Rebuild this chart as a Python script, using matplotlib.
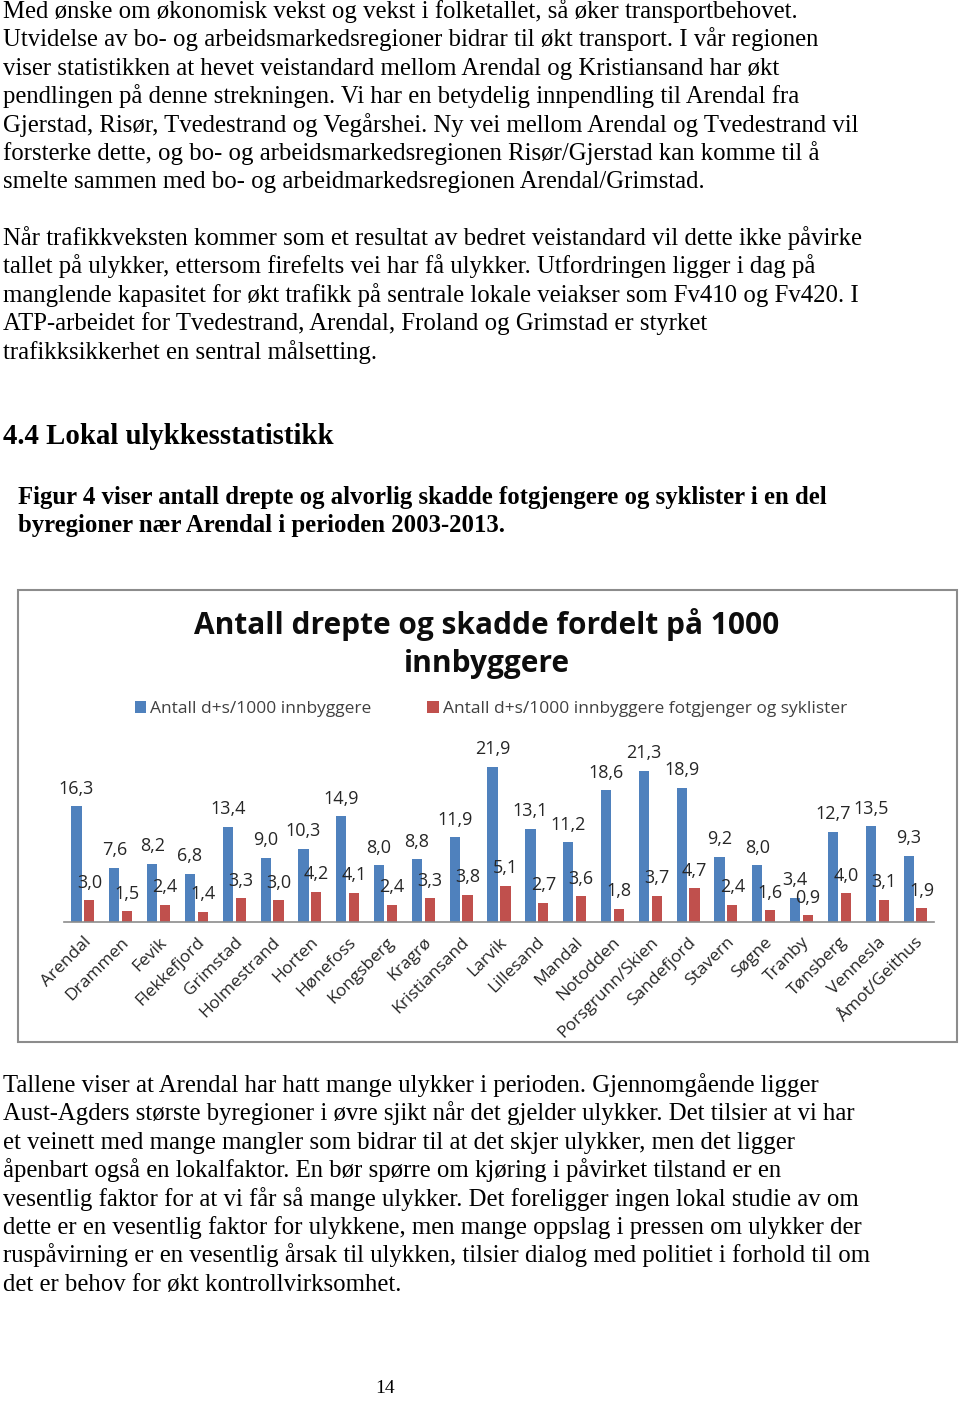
import numpy as np
import matplotlib.pyplot as plt
from matplotlib.patches import Rectangle

W, H = 960, 1402

# ---- chart data ----
byer = ['Arendal', 'Drammen', 'Fevik', 'Flekkefjord', 'Grimstad', 'Holmestrand',
        'Horten', 'Hønefoss', 'Kongsberg', 'Kragrø', 'Kristiansand', 'Larvik',
        'Lillesand', 'Mandal', 'Notodden', 'Porsgrunn/Skien', 'Sandefjord',
        'Stavern', 'Søgne', 'Tranby', 'Tønsberg', 'Vennesla', 'Åmot/Geithus']
alle = [16.3, 7.6, 8.2, 6.8, 13.4, 9.0, 10.3, 14.9, 8.0, 8.8, 11.9, 21.9,
        13.1, 11.2, 18.6, 21.3, 18.9, 9.2, 8.0, 3.4, 12.7, 13.5, 9.3]
fotsykkel = [3.0, 1.5, 2.4, 1.4, 3.3, 3.0, 4.2, 4.1, 2.4, 3.3, 3.8, 5.1,
             2.7, 3.6, 1.8, 3.7, 4.7, 2.4, 1.6, 0.9, 4.0, 3.1, 1.9]
serie_navn = ['Antall d+s/1000 innbyggere',
              'Antall d+s/1000 innbyggere fotgjenger og syklister']
tittel = ['Antall drepte og skadde fordelt på 1000', 'innbyggere']

# ---- page text ----
avsnitt1 = [
    'Med ønske om økonomisk vekst og vekst i folketallet, så øker transportbehovet.',
    'Utvidelse av bo- og arbeidsmarkedsregioner bidrar til økt transport. I vår regionen',
    'viser statistikken at hevet veistandard mellom Arendal og Kristiansand har økt',
    'pendlingen på denne strekningen. Vi har en betydelig innpendling til Arendal fra',
    'Gjerstad, Risør, Tvedestrand og Vegårshei. Ny vei mellom Arendal og Tvedestrand vil',
    'forsterke dette, og bo- og arbeidsmarkedsregionen Risør/Gjerstad kan komme til å',
    'smelte sammen med bo- og arbeidmarkedsregionen Arendal/Grimstad.',
]
avsnitt2 = [
    'Når trafikkveksten kommer som et resultat av bedret veistandard vil dette ikke påvirke',
    'tallet på ulykker, ettersom firefelts vei har få ulykker. Utfordringen ligger i dag på',
    'manglende kapasitet for økt trafikk på sentrale lokale veiakser som Fv410 og Fv420. I',
    'ATP-arbeidet for Tvedestrand, Arendal, Froland og Grimstad er styrket',
    'trafikksikkerhet en sentral målsetting.',
]
overskrift = '4.4 Lokal ulykkesstatistikk'
figurtekst = [
    'Figur 4 viser antall drepte og alvorlig skadde fotgjengere og syklister i en del',
    'byregioner nær Arendal i perioden 2003-2013.',
]
avsnitt3 = [
    'Tallene viser at Arendal har hatt mange ulykker i perioden. Gjennomgående ligger',
    'Aust-Agders største byregioner i øvre sjikt når det gjelder ulykker. Det tilsier at vi har',
    'et veinett med mange mangler som bidrar til at det skjer ulykker, men det ligger',
    'åpenbart også en lokalfaktor. En bør spørre om kjøring i påvirket tilstand er en',
    'vesentlig faktor for at vi får så mange ulykker. Det foreligger ingen lokal studie av om',
    'dette er en vesentlig faktor for ulykkene, men mange oppslag i pressen om ulykker der',
    'ruspåvirning er en vesentlig årsak til ulykken, tilsier dialog med politiet i forhold til om',
    'det er behov for økt kontrollvirksomhet.',
]
sidetall = '14'


def fx(x):
    return x / W


def fy(y):
    return 1 - y / H


fig = plt.figure(figsize=(W / 100, H / 100), dpi=100)
fig.patch.set_facecolor('white')

serif = 'Liberation Serif'
sans = 'Open Sans'
lh = 28.4
fs = 17.8


def linjer(rader, x0, y0, **kw):
    for i, t in enumerate(rader):
        fig.text(fx(x0), fy(y0 + i * lh), t, va='baseline', ha='left',
                 family=serif, **kw)


linjer(avsnitt1, 3, 18, fontsize=fs)
linjer(avsnitt2, 3, 245, fontsize=fs)
fig.text(fx(3), fy(444), overskrift, va='baseline', family=serif,
         fontsize=20.7, fontweight='bold')
linjer(figurtekst, 18, 504, fontsize=fs, fontweight='bold')
linjer(avsnitt3, 3, 1092, fontsize=fs)
fig.text(fx(385), fy(1393), sidetall, va='baseline', ha='center',
         family=serif, fontsize=14)

# chart frame
fig.patches.append(Rectangle((fx(18), fy(1042)), fx(957) - fx(18), fy(590) - fy(1042),
                             transform=fig.transFigure, fill=False,
                             edgecolor='#8c8c8c', lw=1.5))

fig.text(fx(487), fy(634), tittel[0], ha='center', va='baseline', family=sans,
         fontsize=21.5, fontweight='bold', color='#0d0d0d')
fig.text(fx(487), fy(672), tittel[1], ha='center', va='baseline', family=sans,
         fontsize=21.5, fontweight='bold', color='#0d0d0d')

# axes
ax_l, ax_r, ax_b, ax_t = 64, 934, 921.7, 744.7
ax = fig.add_axes([fx(ax_l), fy(ax_b), fx(ax_r) - fx(ax_l), fy(ax_t) - fy(ax_b)])
x = np.arange(len(byer))
bw = 0.27
b1 = ax.bar(x - 0.17, alle, bw, color='#4F81BD', label=serie_navn[0])
b2 = ax.bar(x + 0.17, fotsykkel, bw, color='#C0504D', label=serie_navn[1])
for bars, vals in ((b1, alle), (b2, fotsykkel)):
    for r, v in zip(bars, vals):
        ax.annotate(f'{v:.1f}'.replace('.', ','),
                    (r.get_x() + r.get_width() / 2, v),
                    xytext=(0, 9), textcoords='offset points',
                    ha='center', va='baseline', family=sans, fontsize=13,
                    color='#262626')
ax.set_xlim(-0.5, len(byer) - 0.5)
ax.set_ylim(0, 25)
ax.set_yticks([])
for s in ('top', 'right', 'left'):
    ax.spines[s].set_visible(False)
ax.spines['bottom'].set_color('#8c8c8c')
ax.spines['bottom'].set_linewidth(1.2)
ax.set_xticks(x)
ax.set_xticklabels(byer, rotation=45, ha='right', va='top',
                   rotation_mode='anchor', family=sans, fontsize=12.5,
                   color='#262626')
ax.tick_params(axis='x', length=0, pad=9)
ax.set_facecolor('none')

fig.legend(handles=[b1, b2], labels=serie_navn, loc='center',
           bbox_to_anchor=(fx(491), fy(709)), ncol=2, frameon=False,
           prop={'family': sans, 'size': 12.5}, handlelength=0.65,
           handleheight=0.65, handletextpad=0.25, columnspacing=3.2,
           labelcolor='#404040')

fig.savefig('out.png', dpi=100, facecolor='white')
